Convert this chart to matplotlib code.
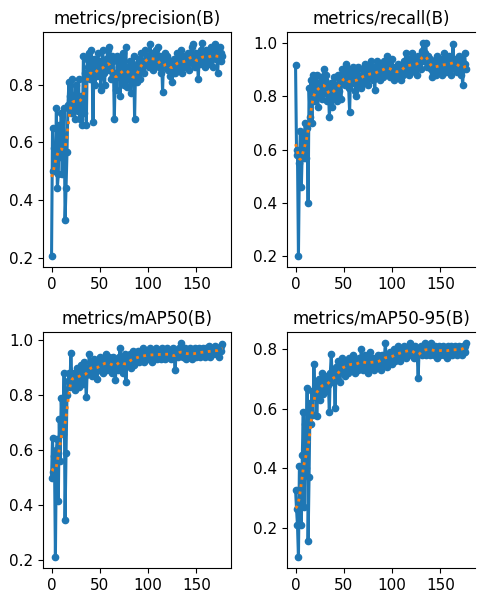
import numpy as np
import matplotlib
matplotlib.use("Agg")
import matplotlib.pyplot as plt
from matplotlib.ticker import MultipleLocator

titles = ["metrics/precision(B)", "metrics/recall(B)",
          "metrics/mAP50(B)", "metrics/mAP50-95(B)"]

precision = [
    0.205, 0.65, 0.50, 0.58, 0.50, 0.72, 0.44, 0.49, 0.66, 0.55,
    0.70, 0.49, 0.62, 0.72, 0.33, 0.44, 0.565, 0.73, 0.81, 0.76,
    0.70, 0.82, 0.74, 0.72, 0.68, 0.80, 0.74, 0.71, 0.82, 0.68,
    0.76, 0.72, 0.66, 0.90, 0.70, 0.84, 0.66, 0.89, 0.86, 0.91,
    0.82, 0.92, 0.85, 0.67, 0.89, 0.80, 0.88, 0.83, 0.91, 0.85,
    0.88, 0.78, 0.86, 0.92, 0.84, 0.80, 0.89, 0.87, 0.92, 0.85,
    0.93, 0.86, 0.82, 0.90, 0.88, 0.68, 0.84, 0.78, 0.90, 0.83,
    0.86, 0.76, 0.88, 0.82, 0.91, 0.80, 0.85, 0.93, 0.79, 0.86,
    0.83, 0.88, 0.77, 0.86, 0.82, 0.90, 0.68, 0.85, 0.81, 0.87,
    0.84, 0.89, 0.82, 0.91, 0.86, 0.88, 0.84, 0.92, 0.87, 0.90,
    0.89, 0.86, 0.94, 0.88, 0.91, 0.85, 0.89, 0.87, 0.92, 0.88,
    0.93, 0.86, 0.90, 0.84, 0.88, 0.775, 0.89, 0.86, 0.91, 0.87,
    0.90, 0.85, 0.88, 0.83, 0.87, 0.81, 0.86, 0.89, 0.84, 0.88,
    0.91, 0.85, 0.89, 0.86, 0.92, 0.84, 0.88, 0.90, 0.86, 0.89,
    0.87, 0.91, 0.85, 0.90, 0.88, 0.93, 0.94, 0.87, 0.89, 0.86,
    0.91, 0.88, 0.82, 0.90, 0.87, 0.92, 0.945, 0.88, 0.90, 0.86,
    0.92, 0.89, 0.87, 0.91, 0.88, 0.93, 0.90, 0.86, 0.92, 0.94,
    0.89, 0.91, 0.84, 0.90, 0.93, 0.88, 0.91, 0.90,
]

recall = [
    0.917, 0.60, 0.58, 0.20, 0.55, 0.67, 0.46, 0.60, 0.66, 0.57,
    0.70, 0.57, 0.68, 0.40, 0.83, 0.72, 0.86, 0.70, 0.88, 0.78,
    0.84, 0.80, 0.88, 0.76, 0.85, 0.82, 0.87, 0.79, 0.84, 0.90,
    0.86, 0.81, 0.88, 0.78, 0.84, 0.72, 0.80, 0.85, 0.76, 0.83,
    0.87, 0.80, 0.84, 0.78, 0.88, 0.82, 0.86, 0.79, 0.90, 0.85,
    0.89, 0.84, 0.92, 0.87, 0.90, 0.83, 0.74, 0.88, 0.85, 0.91,
    0.86, 0.89, 0.82, 0.80, 0.88, 0.91, 0.85, 0.87, 0.83, 0.90,
    0.88, 0.85, 0.92, 0.86, 0.89, 0.84, 0.90, 0.87, 0.93, 0.88,
    0.86, 0.91, 0.824, 0.89, 0.93, 0.88, 0.91, 0.86, 0.92, 0.89,
    0.90, 0.87, 0.93, 0.88, 0.91, 0.95, 0.89, 0.92, 0.87, 0.90,
    0.94, 0.88, 0.86, 0.91, 0.89, 0.87, 0.92, 0.88, 0.90, 0.86,
    0.91, 0.88, 0.93, 0.89, 0.96, 0.90, 0.92, 0.88, 0.94, 0.91,
    0.89, 0.96, 0.92, 0.90, 0.94, 0.91, 0.88, 0.95, 0.92, 0.93,
    0.90, 0.97, 0.998, 0.93, 0.96, 1.0, 0.91, 0.95, 0.92, 0.94,
    0.90, 0.87, 0.93, 0.89, 0.92, 0.88, 0.95, 0.91, 0.89, 0.93,
    0.90, 0.94, 0.88, 0.92, 0.96, 0.91, 0.89, 0.93, 0.90, 0.95,
    0.92, 0.88, 0.91, 0.994, 0.93, 0.90, 0.94, 0.89, 0.92, 0.95,
    0.91, 0.88, 0.93, 0.84, 0.90, 0.96, 0.92, 0.90,
]

map50 = [
    0.50, 0.643, 0.52, 0.58, 0.21, 0.60, 0.64, 0.416, 0.715, 0.56,
    0.79, 0.70, 0.66, 0.88, 0.345, 0.588, 0.80, 0.85, 0.88, 0.83,
    0.952, 0.86, 0.84, 0.88, 0.82, 0.87, 0.90, 0.85, 0.83, 0.89,
    0.86, 0.91, 0.88, 0.84, 0.92, 0.87, 0.793, 0.90, 0.88, 0.95,
    0.89, 0.92, 0.87, 0.91, 0.93, 0.88, 0.90, 0.86, 0.92, 0.89,
    0.94, 0.90, 0.92, 0.88, 0.93, 0.91, 0.95, 0.89, 0.92, 0.94,
    0.90, 0.93, 0.91, 0.88, 0.94, 0.92, 0.855, 0.90, 0.93, 0.89,
    0.94, 0.971, 0.91, 0.93, 0.88, 0.92, 0.95, 0.847, 0.91, 0.94,
    0.92, 0.95, 0.90, 0.93, 0.96, 0.91, 0.94, 0.92, 0.95, 0.93,
    0.96, 0.92, 0.94, 0.95, 0.93, 0.97, 0.92, 0.95, 0.94, 0.96,
    0.93, 0.95, 0.97, 0.94, 0.92, 0.96, 0.94, 0.95, 0.97, 0.93,
    0.95, 0.94, 0.96, 0.93, 0.97, 0.95, 0.94, 0.96, 0.93, 0.95,
    0.97, 0.94, 0.95, 0.96, 0.93, 0.95, 0.97, 0.94, 0.892, 0.95,
    0.96, 0.94, 0.97, 0.95, 0.991, 0.96, 0.94, 0.95, 0.97, 0.93,
    0.95, 0.96, 0.94, 0.97, 0.95, 0.93, 0.96, 0.94, 0.95, 0.97,
    0.94, 0.96, 0.95, 0.97, 0.94, 0.96, 0.95, 0.97, 0.96, 0.94,
    0.97, 0.95, 0.96, 0.98, 0.94, 0.96, 0.97, 0.95, 0.96, 0.98,
    0.95, 0.97, 0.96, 0.94, 0.97, 0.96, 0.98, 0.985,
]

map50_95 = [
    0.329, 0.264, 0.21, 0.103, 0.407, 0.33, 0.21, 0.444, 0.587, 0.27,
    0.547, 0.40, 0.67, 0.159, 0.37, 0.62, 0.55, 0.66, 0.58, 0.748,
    0.64, 0.69, 0.575, 0.66, 0.70, 0.63, 0.68, 0.72, 0.65, 0.69,
    0.67, 0.71, 0.66, 0.70, 0.68, 0.587, 0.72, 0.781, 0.69, 0.73,
    0.70, 0.603, 0.74, 0.71, 0.76, 0.72, 0.69, 0.74, 0.77, 0.73,
    0.75, 0.71, 0.76, 0.74, 0.72, 0.77, 0.74, 0.76, 0.73, 0.75,
    0.78, 0.74, 0.72, 0.76, 0.75, 0.73, 0.77, 0.74, 0.80, 0.76,
    0.73, 0.75, 0.78, 0.74, 0.76, 0.72, 0.75, 0.79, 0.74, 0.77,
    0.75, 0.73, 0.77, 0.76, 0.74, 0.78, 0.75, 0.77, 0.73, 0.76,
    0.78, 0.75, 0.77, 0.82, 0.76, 0.74, 0.78, 0.76, 0.79, 0.77,
    0.75, 0.78, 0.80, 0.76, 0.79, 0.77, 0.81, 0.78, 0.76, 0.79,
    0.80, 0.78, 0.81, 0.79, 0.77, 0.80, 0.78, 0.81, 0.79, 0.82,
    0.78, 0.80, 0.79, 0.77, 0.81, 0.79, 0.78, 0.703, 0.80, 0.79,
    0.81, 0.78, 0.80, 0.79, 0.82, 0.78, 0.80, 0.79, 0.81, 0.78,
    0.82, 0.79, 0.80, 0.78, 0.81, 0.79, 0.77, 0.80, 0.79, 0.81,
    0.78, 0.80, 0.79, 0.81, 0.78, 0.80, 0.79, 0.77, 0.81, 0.80,
    0.79, 0.81, 0.78, 0.80, 0.79, 0.81, 0.80, 0.78, 0.80, 0.81,
    0.79, 0.80, 0.78, 0.81, 0.80, 0.79, 0.81, 0.82,
]


def smooth(y, sigma=3, truncate=4.0):
    # gaussian filter, reflect edges (same as scipy gaussian_filter1d)
    r = int(truncate * sigma + 0.5)
    k = np.exp(-0.5 * (np.arange(-r, r + 1) / sigma) ** 2)
    k /= k.sum()
    yp = np.pad(np.asarray(y, float), r, mode="symmetric")
    return np.convolve(yp, k, mode="valid")


W, H = 478, 594
fig = plt.figure(figsize=(W / 100, H / 100), dpi=100)

# axes boxes in pixels: left, top, width, height
boxes = [(43, 32, 188, 235), (287, 32, 188, 235),
         (43, 332, 188, 236), (287, 332, 188, 236)]
series = [precision, recall, map50, map50_95]

for i, (title, y, (l, t, w, h)) in enumerate(zip(titles, series, boxes)):
    ax = fig.add_axes([l / W, 1 - (t + h) / H, w / W, h / H])
    x = np.arange(len(y))
    ax.plot(x, y, marker=".", linewidth=2.2, markersize=9, color="C0")
    ax.plot(x, smooth(y), ":", linewidth=2, color="C1")
    ax.set_title(title, fontsize=12)
    ax.set_xticks([0, 50, 100, 150])
    ax.yaxis.set_major_locator(MultipleLocator(0.2))
    ax.tick_params(labelsize=11)
    if i % 2 == 1:
        ax.spines["right"].set_visible(False)

fig.savefig("out.png", dpi=100)
